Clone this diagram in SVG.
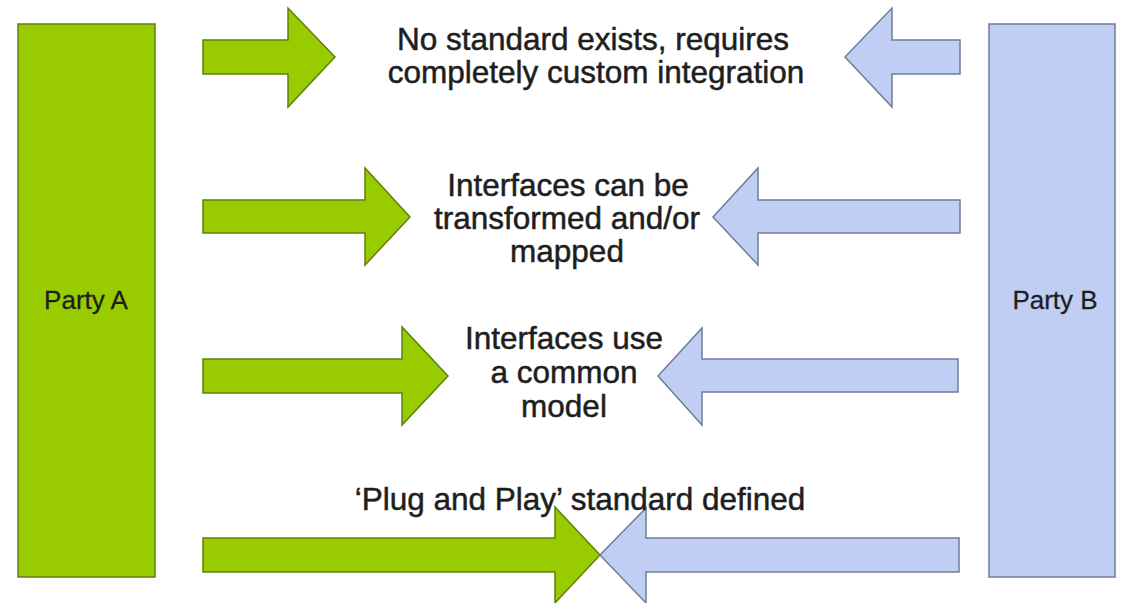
<svg xmlns="http://www.w3.org/2000/svg" width="1122" height="603" viewBox="0 0 1122 603">
<style>
.g{fill:#99cc00;stroke:#5f7f10;stroke-width:1.5;stroke-linejoin:miter}
.b{fill:#c0cef4;stroke:#6f7d98;stroke-width:1.5;stroke-linejoin:miter}
.t{font-family:"Liberation Sans",Arial,sans-serif;font-size:31.5px;fill:#1e1e1e;stroke:#1e1e1e;stroke-width:0.5;text-anchor:middle}
.p{font-family:"Liberation Sans",Arial,sans-serif;font-size:26px;fill:#1e1e1e;stroke:#1e1e1e;stroke-width:0.3;text-anchor:middle}
</style>
<rect width="1122" height="603" fill="#ffffff"/>
<g id="partyA">
<rect class="g" x="18" y="24" width="137" height="553"/>
<text class="p" x="86" y="309">Party A</text>
</g>
<g id="partyB">
<rect class="b" x="989" y="24" width="126" height="553"/>
<text class="p" x="1055" y="309">Party B</text>
</g>
<g id="connectors">
<polygon class="g" points="203,40 288,40 288,8 335,57 288,107 288,74 203,74"/>
<polygon class="b" points="960,40 892,40 892,8 845,57 892,107 892,74 960,74"/>
<polygon class="g" points="203,200 365,200 365,168 410,217 365,265 365,233 203,233"/>
<polygon class="b" points="960,200 758,200 758,168 713,217 758,265 758,233 960,233"/>
<polygon class="g" points="203,359 402,359 402,327 448,376 402,425 402,393 203,393"/>
<polygon class="b" points="958,359 702,359 702,328 658,376 702,425 702,392 958,392"/>
<polygon class="g" points="203,538 555,538 555,507 600,555 555,603 555,572 203,572"/>
<polygon class="b" points="959,538 646,538 646,508 600,555 646,603 646,572 959,572"/>
</g>
<g id="label1">
<text class="t" x="593" y="50">No standard exists, requires</text>
<text class="t" x="596" y="83">completely custom integration</text>
</g>
<g id="label2">
<text class="t" x="568" y="196">Interfaces can be</text>
<text class="t" x="567" y="229">transformed and/or</text>
<text class="t" x="567" y="262">mapped</text>
</g>
<g id="label3">
<text class="t" x="564" y="349">Interfaces use</text>
<text class="t" x="564" y="383">a common</text>
<text class="t" x="564" y="417">model</text>
</g>
<g id="label4">
<text class="t" x="580" y="510">‘Plug and Play’ standard defined</text>
</g>
</svg>
